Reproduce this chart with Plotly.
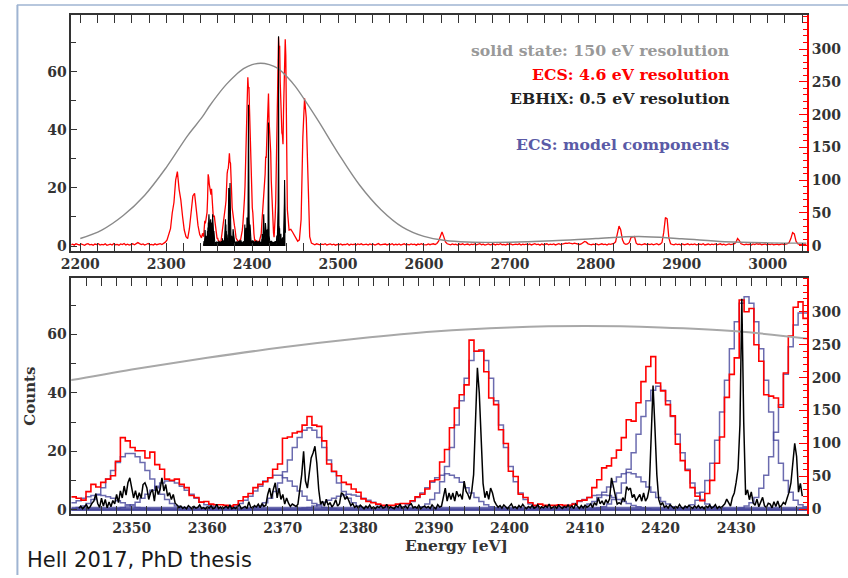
import numpy as np
import plotly.graph_objects as go

# ---------------------------------------------------------------------------
# ECS spectrum, 0.65 eV bins starting at 2342 eV (right-hand axis)
ECS_BIN_START = 2342.0
ECS_BIN_WIDTH = 0.65
ecs_counts = [
    19, 17, 14, 27, 38, 34, 41, 46, 51, 73,
    109, 104, 94, 89, 89, 78, 87, 68, 61, 46,
    44, 46, 38, 33, 21, 18, 11, 12, 8, 7,
    7, 6, 5, 7, 13, 19, 24, 33, 38, 42,
    48, 61, 69, 108, 110, 116, 118, 128, 141, 128,
    126, 104, 69, 58, 51, 41, 38, 31, 26, 16,
    12, 10, 8, 6, 6, 6, 8, 9, 9, 13,
    19, 23, 31, 43, 45, 72, 91, 124, 154, 174,
    189, 257, 240, 242, 209, 169, 159, 121, 100, 58,
    50, 23, 18, 10, 6, 8, 6, 6, 6, 7,
    6, 6, 8, 13, 14, 18, 33, 45, 63, 66,
    78, 90, 109, 136, 134, 162, 194, 217, 232, 192,
    180, 159, 142, 99, 74, 59, 33, 20, 13, 24,
    44, 70, 110, 170, 205, 230, 318, 300, 305, 250,
    225, 174, 172, 169, 155, 207, 263, 307, 315, 290,
]

# ECS overview outside the zoomed window (2 eV sampling)
ECS_LOW_START, ECS_LOW_STEP = 2189.0, 2.0
ecs_low_counts = [
    1.5, 2.5, 1.0, 3.0, 2.0, 1.2, 2.8, 1.8, 0.8, 2.4,
    3.2, 1.4, 2.0, 0.9, 2.6, 1.7, 3.1, 1.1, 2.2, 1.5,
    2.9, 0.7, 1.9, 2.5, 1.2, 3.4, 1.6, 2.1, 0.9, 2.7,
    1.8, 3.5, 1.3, 2.4, 1.0, 2.0, 3.0, 1.5, 2.6, 4.8,
    3.2, 1.9, 2.8, 1.1, 2.3, 3.6, 1.4, 2.2, 1.0, 2.9,
    1.6, 2.5, 3.3, 2.0, 3.8, 5.5, 9.0, 16.0, 26.0, 50.0,
    66.0, 100.0, 113.0, 86.0, 70.0, 45.0, 24.0, 14.0, 11.0, 26.0,
    56.0, 76.0, 80.0, 55.0, 31.0, 17.0, 12.0,
]
ECS_HIGH_START, ECS_HIGH_STEP = 2441.0, 2.0
ecs_high_counts = [
    55, 24, 25, 21, 17, 12, 7, 9, 40, 165,
    225, 195, 95, 14, 4, 2.5, 1.5, 3.0, 2.2, 1.4,
    2.6, 1.8, 3.1, 1.2, 2.0, 2.8, 1.5, 2.4, 0.9, 2.1,
    1.6, 2.9, 1.3, 2.2, 1.8, 3.2, 1.0, 2.5, 1.7, 2.3,
    1.1, 2.7, 1.9, 3.0, 1.4, 2.0, 2.6, 1.2, 2.9, 1.7,
    2.4, 1.0, 2.2, 3.3, 1.5, 2.1, 1.8, 2.7, 1.3, 2.5,
    1.9, 3.1, 1.2, 2.3, 1.6, 2.8, 1.1, 2.0, 3.0, 1.5,
    2.2, 1.4, 2.9, 1.8, 2.5, 1.0, 2.6, 1.7, 3.2, 1.9,
    2.1, 1.3, 2.7, 1.6, 2.4, 3.0, 1.8, 3.5, 7.0, 15.0,
    21.0, 14.0, 6.0, 3.0, 2.2, 1.4, 2.8, 1.9, 2.3, 1.1,
    2.6, 1.8, 3.0, 1.5, 2.2, 2.7, 1.2, 2.4, 1.7, 2.9,
    1.4, 2.1, 3.1, 1.6, 2.5, 1.0, 2.3, 2.8, 1.5, 2.0,
    2.7, 1.3, 2.4, 1.9, 3.2, 1.6, 2.2, 1.1, 2.6, 1.8,
    2.9, 1.4, 2.0, 2.5, 1.7, 3.0, 1.2, 2.3, 1.9, 2.6,
    1.5, 2.8, 1.3, 2.1, 3.3, 1.8, 2.4, 1.0, 2.7, 1.6,
    2.2, 3.0, 1.4, 2.5, 1.9, 2.8, 1.3, 2.1, 3.1, 1.7,
    2.6, 3.4, 4.0, 3.8, 4.5, 3.5, 3.0, 4.0, 3.2, 2.4,
    2.0, 2.8, 4.2, 6.5, 5.5, 3.0, 2.2, 1.6, 2.5, 1.9,
    2.7, 1.4, 2.3, 3.0, 1.8, 2.5, 1.2, 2.9, 2.1, 3.2,
    3.5, 6.0, 18.0, 30.0, 24.0, 9.0, 3.5, 2.2, 2.8, 5.0,
    13.0, 13.0, 14.0, 4.0, 2.0, 2.6, 1.5, 2.3, 3.0, 1.7,
    2.4, 1.9, 2.8, 1.4, 2.2, 3.1, 1.6, 2.5, 5.0, 20.0,
    43.0, 41.0, 12.0, 3.0, 2.1, 1.5, 2.7, 1.9, 2.4, 1.2,
    2.8, 1.6, 2.3, 3.0, 1.4, 2.5, 1.8, 2.9, 1.3, 2.2,
    2.6, 1.7, 3.1, 1.2, 2.0, 2.7, 1.5, 2.4, 1.9, 2.8,
    1.4, 2.3, 3.0, 1.6, 2.5, 1.1, 2.2, 2.9, 1.7, 2.4,
    3.0, 5.0, 11.0, 8.0, 3.0, 2.1, 1.5, 2.6, 1.8, 2.3,
    1.2, 2.8, 1.9, 3.3, 2.4, 3.0, 1.6, 2.2, 2.7, 1.4,
    2.5, 1.8, 2.9, 1.3, 2.1, 2.6, 1.5, 2.3, 3.0, 1.7,
    2.4, 3.2, 5.0, 11.0, 20.0, 18.0, 7.0, 3.0, 2.2, 1.6,
    2.5, 1.9, 2.2,
]

# EBHiX spectrum, 0.25 eV sampling from 2343 eV (left-hand axis)
EBHIX_START, EBHIX_STEP = 2343.0, 0.25
ebhix_counts = [
    0.5, 1.2, 0.3, 0.9, 1.7, 0.4, 1.0, 2.2, 3.0, 5.5, 2.1, 0.8,
    3.9, 1.2, 3.5, 0.6, 2.6, 1.0, 3.1, 2.0, 5.2, 2.4, 6.4, 4.0,
    8.1, 5.0, 9.2, 10.9, 7.5, 4.0, 6.5, 3.5, 5.8, 3.9, 8.6, 9.2,
    7.5, 3.5, 5.8, 6.9, 2.9, 8.1, 5.2, 6.9, 10.9, 6.4, 8.6, 4.6,
    5.8, 3.5, 5.2, 2.2, 1.6, 0.7, 1.2, 0.4, 0.9, 0.3, 1.4, 0.6,
    0.2, 1.1, 0.5, 0.8, 1.6, 0.4, 0.7, 0.2, 1.0, 0.5, 1.3, 0.3,
    0.6, 1.8, 0.4, 0.9, 0.2, 0.7, 1.2, 0.5, 1.5, 0.3, 0.8, 0.4,
    0.9, 1.7, 0.3, 0.6, 1.1, 0.4, 2.7, 0.8, 0.5, 1.4, 0.9, 1.9,
    0.7, 2.0, 1.1, 1.5, 5.2, 7.4, 3.9, 7.0, 9.2, 4.0, 7.4, 3.5,
    5.2, 1.9, 4.0, 2.2, 1.1, 1.9, 1.6, 1.1, 1.9, 7.4, 12.0, 20.0,
    9.8, 7.4, 13.8, 17.7, 19.4, 21.7, 15.9, 6.9, 1.8, 2.9, 1.2, 3.6,
    1.5, 2.4, 0.9, 1.8, 3.4, 1.2, 2.0, 5.8, 5.2, 3.5, 4.5, 2.9,
    1.4, 2.1, 0.8, 1.3, 0.5, 1.5, 0.7, 0.3, 1.2, 0.6, 1.6, 0.4,
    0.9, 0.3, 1.1, 0.7, 1.4, 0.5, 0.8, 1.8, 0.4, 1.0, 0.6, 0.3,
    1.3, 0.8, 1.9, 0.5, 0.7, 1.2, 0.4, 1.6, 2.0, 0.6, 1.0, 0.5,
    1.5, 0.3, 0.9, 1.2, 0.6, 1.1, 0.4, 1.6, 0.8, 0.3, 1.7, 0.9,
    1.2, 4.6, 7.4, 2.9, 5.7, 3.5, 5.7, 2.9, 6.3, 4.6, 5.2, 3.5,
    9.8, 6.3, 5.2, 3.5, 6.3, 12.0, 30.0, 48.6, 40.0, 22.0, 9.0, 4.1,
    6.3, 3.5, 7.4, 5.7, 2.9, 1.7, 0.8, 1.4, 0.5, 1.6, 0.9, 0.3,
    1.2, 2.0, 0.6, 1.0, 0.4, 1.4, 0.7, 1.8, 0.9, 0.3, 1.1, 0.6,
    1.5, 0.5, 0.8, 1.7, 0.3, 1.0, 0.6, 1.3, 0.8, 1.9, 0.4, 0.7,
    1.2, 0.5, 1.5, 0.9, 0.4, 1.1, 0.7, 1.6, 0.6, 1.3, 0.4, 1.9,
    1.0, 0.4, 1.4, 0.6, 1.5, 0.8, 1.2, 2.0, 0.7, 2.4, 1.5, 4.1,
    2.0, 3.0, 1.6, 3.4, 2.2, 3.7, 10.9, 7.9, 5.2, 1.9, 2.4, 1.9,
    4.1, 2.8, 7.9, 6.8, 7.4, 4.1, 5.2, 2.9, 4.1, 5.2, 2.9, 5.7,
    2.9, 4.1, 7.2, 22.0, 42.5, 28.0, 12.0, 3.5, 1.5, 2.4, 0.8, 1.3,
    0.5, 1.7, 0.9, 0.4, 1.1, 0.6, 1.8, 0.8, 0.3, 1.2, 0.7, 1.5,
    0.9, 0.4, 1.3, 0.6, 1.4, 0.5, 1.0, 0.3, 1.2, 0.7, 1.6, 0.5,
    0.9, 1.7, 0.4, 1.1, 0.6, 1.4, 2.0, 3.6, 2.5, 1.2, 4.2, 5.7,
    9.4, 14.0, 29.0, 72.2, 30.0, 5.0, 6.8, 3.4, 6.1, 2.3, 1.5, 3.6,
    1.0, 2.4, 4.2, 1.3, 0.8, 2.2, 1.9, 0.6, 2.7, 1.1, 3.0, 0.9,
    1.4, 2.5, 1.9, 4.0, 6.0, 9.2, 15.0, 22.7, 18.2, 6.0, 9.0, 4.6,
]

# Solid-state detector response (left-hand axis)
solid_state_energy = [2200, 2225, 2250, 2275, 2300, 2325, 2342, 2350, 2360, 2370,
                      2380, 2390, 2400, 2410, 2420, 2430, 2440, 2450, 2475, 2500,
                      2525, 2550, 2575, 2600, 2625, 2650, 2700, 2750, 2800, 2850,
                      2900, 2950, 3000, 3045]
solid_state_counts = [2.6, 5.5, 10.5, 17.5, 27.0, 38.0, 44.4, 48.0, 52.0, 55.6,
                      58.6, 61.0, 62.4, 62.9, 62.4, 61.1, 58.4, 55.0, 44.0, 32.0,
                      21.0, 12.5, 6.5, 3.3, 1.9, 1.4, 1.3, 1.8, 2.6, 3.3,
                      2.5, 1.5, 1.1, 1.0]

# ECS model components: first ECS bin index and counts per bin
comp_2346_first, comp_2346 = 0, [10, 13, 17, 19, 21, 22, 21, 19, 17, 13, 10, 7, 5, 3, 2, 1]
comp_2350_first, comp_2350 = 0, [1, 3, 5, 9, 15, 23, 33, 46, 59, 71, 80, 85, 85, 80, 71, 59,
                                  46, 33, 23, 15, 9, 5, 3, 1]
comp_2355_first, comp_2355 = 9, [1, 3, 5, 7, 11, 17, 23, 29, 35, 40, 43, 43, 40, 35, 29, 23,
                                 17, 11, 7, 5, 3, 1]
comp_2369_first, comp_2369 = 30, [1, 2, 3, 5, 9, 14, 20, 28, 35, 43, 48, 52, 52, 48, 43, 35,
                                  28, 20, 14, 9, 5, 3, 2, 1]
comp_2373_first, comp_2373 = 36, [1, 3, 5, 10, 17, 27, 40, 57, 75, 94, 109, 120, 124, 120,
                                  109, 94, 75, 57, 40, 27, 17, 10, 5, 3, 1]
comp_2378_first, comp_2378 = 46, [1, 2, 3, 5, 7, 11, 14, 17, 20, 22, 23, 22, 20, 17, 14, 11,
                                  7, 5, 3, 2, 1]
comp_2392_first, comp_2392 = 65, [1, 2, 4, 7, 12, 18, 25, 33, 41, 48, 52, 54, 52, 48, 41, 33,
                                  25, 18, 12, 7, 4, 2, 1]
comp_2396_first, comp_2396 = 69, [1, 2, 4, 8, 15, 25, 42, 65, 94, 128, 165, 199, 226, 240,
                                  240, 226, 199, 165, 128, 94, 65, 42, 25, 15, 8, 4, 2, 1]
comp_2412_first, comp_2412 = 98, [1, 2, 4, 6, 9, 12, 15, 18, 21, 22, 22, 21, 18, 15, 12, 9,
                                  6, 4, 2, 1]
comp_2416_first, comp_2416 = 102, [1, 2, 4, 8, 12, 18, 26, 34, 42, 49, 54, 56, 54, 49, 42,
                                   34, 26, 18, 12, 8, 4, 2, 1]
comp_2419_first, comp_2419 = 106, [1, 2, 4, 8, 15, 25, 40, 61, 86, 114, 141, 165, 181, 187,
                                   181, 165, 141, 114, 86, 61, 40, 25, 15, 8, 4, 2, 1]
comp_2431_first, comp_2431 = 123, [1, 2, 4, 7, 14, 26, 44, 70, 105, 148, 196, 244, 285, 313,
                                   323, 313, 285, 244, 196, 148, 105, 70, 44, 26, 14, 7, 4]
comp_2438_first, comp_2438 = 135, [1, 2, 5, 10, 18, 32, 52, 80, 117, 159, 205, 247, 280,
                                   298, 298]
comp_background = 3

# ---------------------------------------------------------------------------
RED = "#ff0000"
BLUE = "rgba(70,70,155,0.80)"
GRAY = "#8a8a8a"
TXT = "#333333"
SERIF = "DejaVu Serif"

n_bins = len(ecs_counts)
edges = ECS_BIN_START + ECS_BIN_WIDTH * np.arange(n_bins + 1)
centers = edges[:-1] + ECS_BIN_WIDTH / 2
hist_y = list(ecs_counts) + [ecs_counts[-1]]

low_e = ECS_LOW_START + ECS_LOW_STEP * np.arange(len(ecs_low_counts))
high_e = ECS_HIGH_START + ECS_HIGH_STEP * np.arange(len(ecs_high_counts))
overview_e = np.concatenate([low_e, centers, high_e])
overview_c = list(ecs_low_counts) + list(ecs_counts) + list(ecs_high_counts)

ebhix_e = EBHIX_START + EBHIX_STEP * np.arange(len(ebhix_counts))

components = [
    (comp_2346_first, comp_2346), (comp_2350_first, comp_2350),
    (comp_2355_first, comp_2355), (comp_2369_first, comp_2369),
    (comp_2373_first, comp_2373), (comp_2378_first, comp_2378),
    (comp_2392_first, comp_2392), (comp_2396_first, comp_2396),
    (comp_2412_first, comp_2412), (comp_2416_first, comp_2416),
    (comp_2419_first, comp_2419), (comp_2431_first, comp_2431),
    (comp_2438_first, comp_2438),
]

fig = go.Figure()

# ---- top panel: overview ----
fig.add_trace(go.Scatter(x=overview_e, y=overview_c, mode="lines",
                         line=dict(color=RED, width=1.3), xaxis="x", yaxis="y"))
fig.add_trace(go.Scatter(x=solid_state_energy, y=solid_state_counts, mode="lines",
                         line=dict(color=GRAY, width=1.4, shape="spline", smoothing=1.0),
                         xaxis="x", yaxis="y2"))
fig.add_trace(go.Scatter(x=ebhix_e, y=ebhix_counts, mode="lines", fill="tozeroy",
                         fillcolor="black", line=dict(color="black", width=1.1),
                         xaxis="x", yaxis="y2"))

# ---- bottom panel: zoom with model components ----
bg = [comp_background] * (n_bins + 1)
fig.add_trace(go.Scatter(x=edges, y=bg, mode="lines",
                         line=dict(color=BLUE, width=1.4, shape="hv"),
                         xaxis="x2", yaxis="y3"))
for first, vals in components:
    arr = np.zeros(n_bins)
    arr[first:first + len(vals)] = vals
    yy = list(arr) + [arr[-1]]
    fig.add_trace(go.Scatter(x=edges, y=yy, mode="lines",
                             line=dict(color=BLUE, width=1.5, shape="hv"),
                             xaxis="x2", yaxis="y3"))
fig.add_trace(go.Scatter(x=edges, y=hist_y, mode="lines",
                         line=dict(color=RED, width=1.6, shape="hv"),
                         xaxis="x2", yaxis="y3"))
fig.add_trace(go.Scatter(x=solid_state_energy, y=solid_state_counts, mode="lines",
                         line=dict(color="#a8a8a8", width=2, shape="spline", smoothing=1.0),
                         xaxis="x2", yaxis="y4"))
fig.add_trace(go.Scatter(x=ebhix_e, y=ebhix_counts, mode="lines",
                         line=dict(color="black", width=1.5), xaxis="x2", yaxis="y4"))

W, H = 848, 578
px = lambda v: v / W
py = lambda v: 1 - v / H
xdom = [px(62), px(806.7)]
top_dom = [py(252), py(15)]
bot_dom = [py(517), py(279)]

tickfont = dict(family=SERIF, size=14, color=TXT, weight="bold")
base_x = dict(showgrid=False, zeroline=False, showline=True, linecolor=TXT,
              linewidth=2, ticks="inside", ticklen=8, tickwidth=1.3, tickcolor=TXT,
              mirror="allticks", tickfont=tickfont)
left_y = dict(showgrid=False, zeroline=False, showline=True, linecolor=TXT,
              linewidth=1.5, ticks="inside", ticklen=6, tickwidth=1.3, tickcolor=TXT,
              tickfont=tickfont, side="left", range=[-1.6, 79.5],
              tickvals=[0, 20, 40, 60],
              minor=dict(tickvals=[10, 30, 50, 70], ticks="inside", ticklen=5,
                         tickcolor=TXT))
right_y = dict(showgrid=False, zeroline=False, showline=True, linecolor=RED,
               linewidth=1.5, ticks="inside", ticklen=8, tickwidth=1.2, tickcolor=RED,
               tickfont=tickfont, side="right", range=[-7.5, 352],
               tickvals=[0, 50, 100, 150, 200, 250, 300],
               minor=dict(dtick=10, tick0=0, ticks="inside", ticklen=4, tickcolor=RED))

fig.update_layout(
    width=W, height=H, margin=dict(l=0, r=0, t=0, b=0),
    paper_bgcolor="white", plot_bgcolor="white", showlegend=False,
    xaxis=dict(base_x, domain=xdom, anchor="y", range=[2189.5, 3046],
               tick0=2200, dtick=100,
               minor=dict(dtick=20, tick0=2200, ticks="inside", ticklen=4, tickcolor=TXT)),
    yaxis=dict(right_y, domain=top_dom, anchor="x"),
    yaxis2=dict(left_y, overlaying="y", anchor="x"),
    xaxis2=dict(base_x, domain=xdom, anchor="y3", range=[2342.0, 2439.4],
                tick0=2350, dtick=10,
                minor=dict(dtick=2, tick0=2350, ticks="inside", ticklen=4, tickcolor=TXT)),
    yaxis3=dict(right_y, domain=bot_dom, anchor="x2"),
    yaxis4=dict(left_y, overlaying="y3", anchor="x2"),
)

legend_lines = [
    ("solid state: 150 eV resolution", "#999999", 51),
    ("ECS: 4.6 eV resolution", RED, 75),
    ("EBHiX: 0.5 eV resolution", "#222222", 99),
    ("ECS: model components", "#5a5aa6", 145),
]
for text, color, yc in legend_lines:
    fig.add_annotation(text=text, xref="paper", yref="paper", x=px(731), y=py(yc),
                       xanchor="right", yanchor="middle", showarrow=False,
                       font=dict(family=SERIF, size=15.7, color=color, weight="bold"))

fig.add_annotation(text="Counts", xref="paper", yref="paper", x=px(20), y=py(398),
                   textangle=-90, showarrow=False, xanchor="center", yanchor="middle",
                   font=dict(family=SERIF, size=15, color=TXT, weight="bold"))
fig.add_annotation(text="Energy [eV]", xref="paper", yref="paper", x=px(452), y=py(548),
                   showarrow=False, xanchor="center", yanchor="middle",
                   font=dict(family=SERIF, size=15.5, color=TXT, weight="bold"))
fig.add_annotation(text="Hell 2017, PhD thesis", xref="paper", yref="paper",
                   x=px(15), y=py(563), showarrow=False, xanchor="left", yanchor="middle",
                   font=dict(family="DejaVu Sans", size=21, color="#1a1a1a"))

# slide frame
frame = "#9fb4d2"
fig.add_shape(type="line", xref="paper", yref="paper", x0=px(7.5), x1=px(7.5),
              y0=py(5), y1=0, line=dict(color=frame, width=2))
fig.add_shape(type="line", xref="paper", yref="paper", x0=px(7), x1=1,
              y0=py(5), y1=py(5), line=dict(color=frame, width=1.5))

fig.write_html("out.html")
